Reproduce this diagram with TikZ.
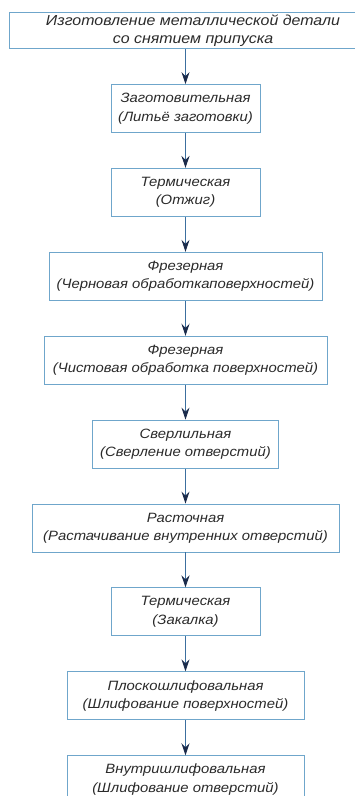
\documentclass[tikz,border=0pt]{standalone}
\usepackage{fontspec}
\setmainfont{Liberation Sans}[FakeStretch=1.1]
\usepackage{xcolor}
\usetikzlibrary{positioning,arrows.meta}

\definecolor{boxline}{HTML}{6FA6CB}
\definecolor{arrline}{HTML}{3C6F9F}
\definecolor{arrhead}{HTML}{1B2B4B}
\definecolor{txt}{HTML}{2A2A2A}

\begin{document}
\begin{tikzpicture}[node distance=35pt,
    box/.style={rectangle, draw=boxline, line width=0.9pt, minimum height=48pt, align=center,
      text=txt, inner sep=2pt, font=\fontsize{13.5}{18.5}\itshape},
    flow/.style={draw=arrline, line width=0.9pt,
      -{Stealth[length=12pt, width=8pt, inset=4pt, color=arrhead, fill=arrhead]}}]
    \useasboundingbox (0,0) rectangle (355pt,-796pt);
    \clip (0,0) rectangle (355pt,-796pt);

    \node[box, minimum width=367pt, minimum height=35pt, font=\fontsize{14.5}{18.5}\itshape] (izgot) at (193pt,-30.5pt)
        {Изготовление металлической детали\\со снятием припуска};
    \node[box, minimum width=149pt, below=of izgot, xshift=-7.5pt] (zagot)
        {Заготовительная\\(Литьё заготовки)};
    \node[box, minimum width=149pt, below=of zagot] (otzhig) {Термическая\\(Отжиг)};
    \node[box, minimum width=273pt, below=of otzhig] (frez1)
        {Фрезерная\\(Черновая обработкаповерхностей)};
    \node[box, minimum width=283pt, below=of frez1] (frez2)
        {Фрезерная\\(Чистовая обработка поверхностей)};
    \node[box, minimum width=186pt, below=of frez2] (sverl)
        {Сверлильная\\(Сверление отверстий)};
    \node[box, minimum width=307pt, below=of sverl] (rastoch)
        {Расточная\\(Растачивание внутренних отверстий)};
    \node[box, minimum width=149pt, below=of rastoch] (zakalka) {Термическая\\(Закалка)};
    \node[box, minimum width=237pt, below=of zakalka] (ploskshl)
        {Плоскошлифовальная\\(Шлифование поверхностей)};
    \node[box, minimum width=237pt, below=of ploskshl] (vnutrshl)
        {Внутришлифовальная\\(Шлифование отверстий)};

    \draw[flow] (izgot.south -| zagot) -- (zagot);
    \draw[flow] (zagot) -- (otzhig);
    \draw[flow] (otzhig) -- (frez1);
    \draw[flow] (frez1) -- (frez2);
    \draw[flow] (frez2) -- (sverl);
    \draw[flow] (sverl) -- (rastoch);
    \draw[flow] (rastoch) -- (zakalka);
    \draw[flow] (zakalka) -- (ploskshl);
    \draw[flow] (ploskshl) -- (vnutrshl);
\end{tikzpicture}
\end{document}
